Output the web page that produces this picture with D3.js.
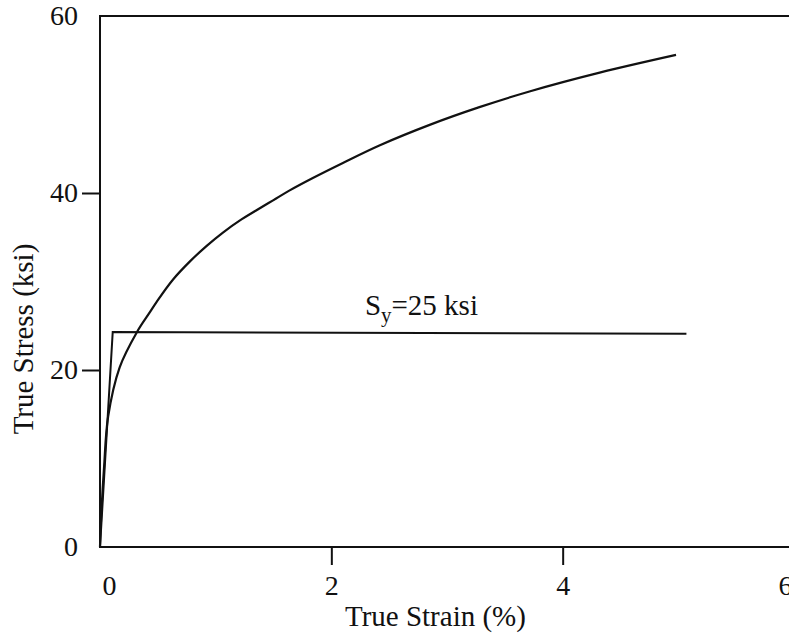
<!DOCTYPE html>
<html>
<head>
<meta charset="utf-8">
<script src="https://cdn.jsdelivr.net/npm/d3@7"></script>
<style>
  body { margin: 0; background: #fff; }
  text { font-family: "Liberation Serif", "Times New Roman", serif; fill: #111; }
</style>
</head>
<body>
<script>
// true stress-strain curve (strain in %, stress in ksi)
var strain = [0, 0.01, 0.035, 0.07, 0.17, 0.32, 0.43, 0.49, 0.63, 0.78, 0.92, 1.06, 1.21, 1.36, 1.50, 1.64, 1.84, 2.1, 2.42, 2.85, 3.28, 3.72, 4.32, 4.98];
var stress = [0, 3.4, 9.0, 14.7, 20.3, 24.3, 26.5, 27.7, 30.2, 32.3, 34.0, 35.5, 36.9, 38.1, 39.2, 40.3, 41.7, 43.4, 45.4, 47.7, 49.7, 51.5, 53.6, 55.6];

// elastic-perfectly plastic approximation
var yieldStrain = [0, 0.11, 5.07];
var yieldStress = [0, 24.3, 24.1];

var xTicks = [0, 2, 4, 6];
var yTicks = [0, 20, 40, 60];

var width = 789, height = 636;
var margin = {top: 16, right: -5, bottom: 89, left: 100};

var svg = d3.select("body").append("svg")
  .attr("width", width)
  .attr("height", height);

var x = d3.scaleLinear().domain([0, 6]).range([margin.left, width - margin.right]);
var y = d3.scaleLinear().domain([0, 60]).range([height - margin.bottom, margin.top]);

// frame
svg.append("rect")
  .attr("x", x(0)).attr("y", y(60))
  .attr("width", x(6) - x(0)).attr("height", y(0) - y(60))
  .attr("fill", "none").attr("stroke", "#111").attr("stroke-width", 2);

var xAxis = svg.append("g")
  .attr("transform", "translate(0," + y(0) + ")")
  .call(d3.axisBottom(x).tickValues(xTicks).tickSize(18).tickSizeOuter(0).tickPadding(10).tickFormat(d3.format("d")));
xAxis.select(".domain").remove();
xAxis.selectAll("text").style("font-size", "28px")
  .attr("dx", function(d) { return d === 0 ? 9 : (d === 6 ? -9 : 0); });

var yAxis = svg.append("g")
  .attr("transform", "translate(" + x(0) + ",0)")
  .call(d3.axisLeft(y).tickValues(yTicks).tickSize(18).tickSizeOuter(0).tickPadding(4).tickFormat(d3.format("d")));
yAxis.select(".domain").remove();
yAxis.selectAll("text").style("font-size", "28px");

// no tick marks at the corners
[xAxis, yAxis].forEach(function(ax) {
  ax.selectAll(".tick line")
    .attr("stroke", "#111").attr("stroke-width", 2)
    .filter(function(d) { return d === 0 || d === 6 || d === 60; })
    .remove();
});

var line = d3.line()
  .x(function(d) { return x(d[0]); })
  .y(function(d) { return y(d[1]); });

svg.append("path")
  .datum(d3.zip(yieldStrain, yieldStress))
  .attr("fill", "none").attr("stroke", "#111").attr("stroke-width", 2)
  .attr("d", line);

svg.append("path")
  .datum(d3.zip(strain, stress))
  .attr("fill", "none").attr("stroke", "#111").attr("stroke-width", 2.2)
  .attr("d", line.curve(d3.curveCatmullRom.alpha(0.5)));

var ann = svg.append("text")
  .attr("x", x(2.29)).attr("y", y(26.2))
  .style("font-size", "29px");
ann.append("tspan").text("S");
ann.append("tspan").attr("dy", 7).style("font-size", "21px").text("y");
ann.append("tspan").attr("dy", -7).text("=25 ksi");

svg.append("text")
  .attr("x", x(2.9)).attr("y", 626)
  .attr("text-anchor", "middle")
  .style("font-size", "29px")
  .text("True Strain (%)");

svg.append("text")
  .attr("transform", "translate(33," + y(23.5) + ") rotate(-90)")
  .attr("text-anchor", "middle")
  .style("font-size", "29px")
  .text("True Stress (ksi)");
</script>
</body>
</html>
